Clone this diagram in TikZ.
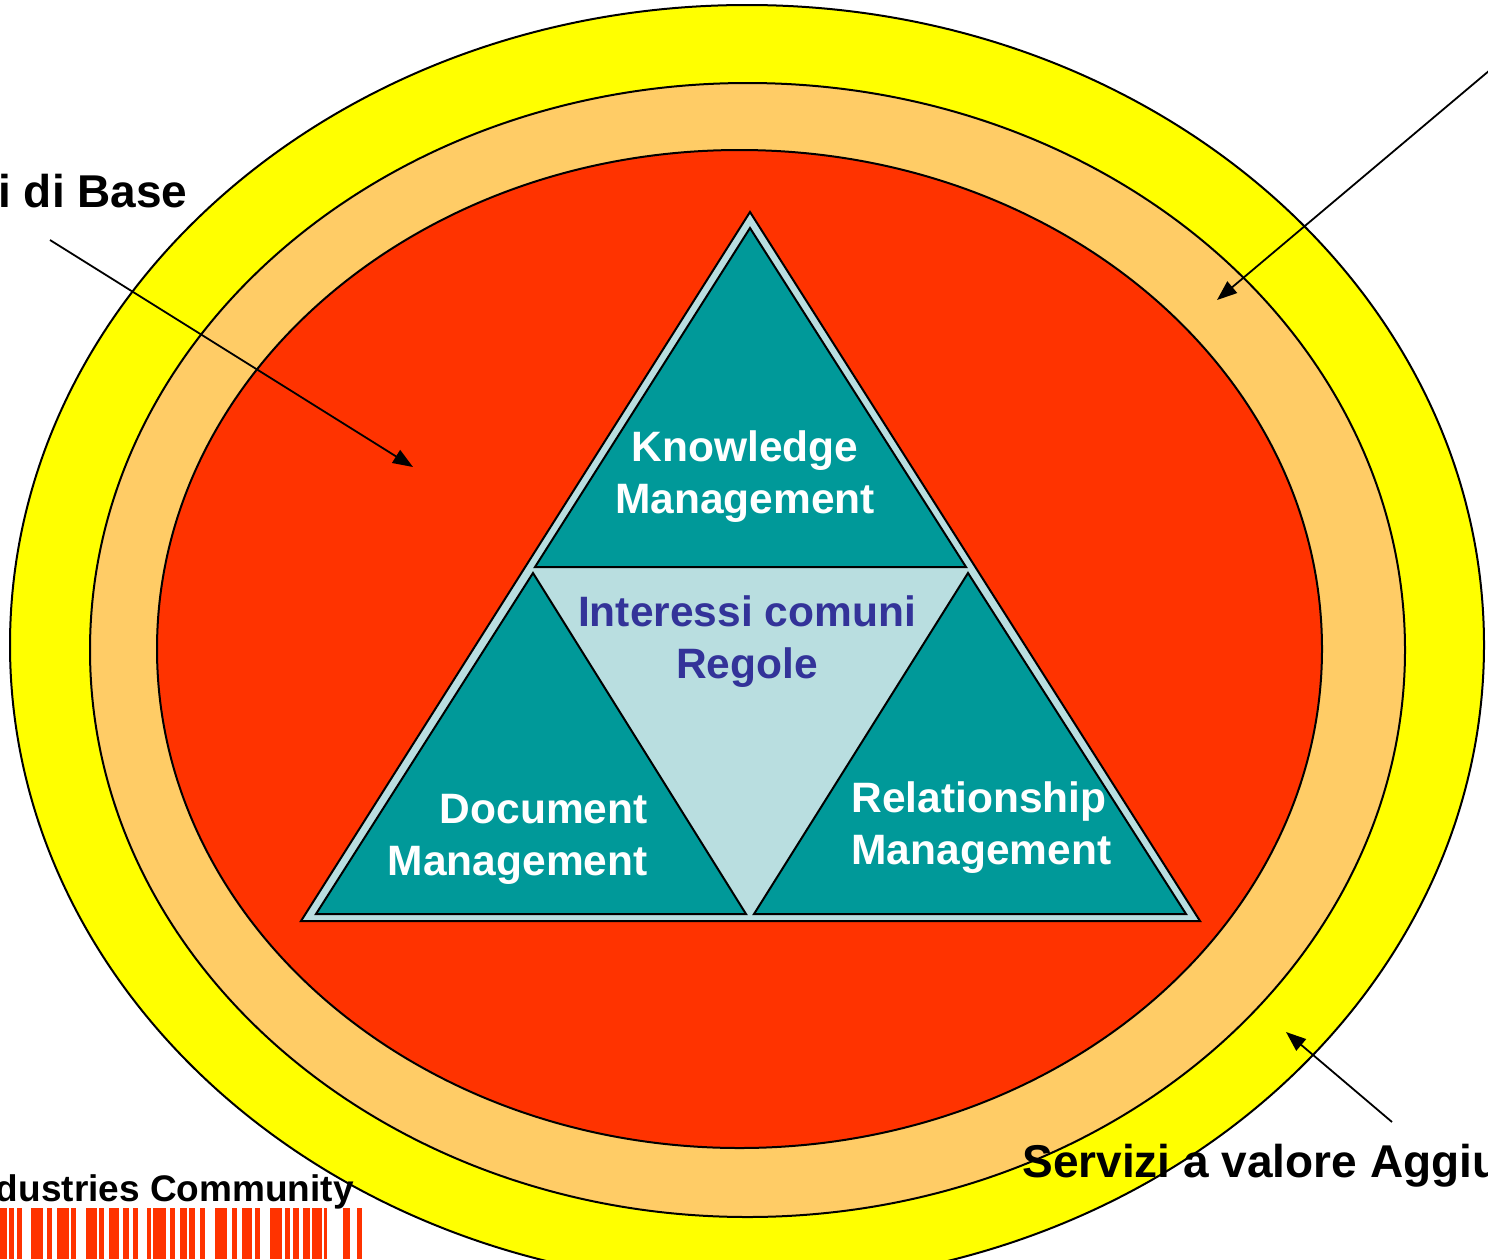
\documentclass[tikz,border=0pt]{standalone}
\usepackage{fontspec}
\setmainfont{Liberation Sans}
\usetikzlibrary{arrows.meta}
\definecolor{ringY}{HTML}{FFFF00}
\definecolor{ringO}{HTML}{FFCC66}
\definecolor{ringR}{HTML}{FF3300}
\definecolor{tealc}{HTML}{009999}
\definecolor{pale}{HTML}{B9DEE0}
\definecolor{txtblue}{HTML}{333399}
\begin{document}
\begin{tikzpicture}[x=0.5pt,y=-0.5pt,
  ring/.style={draw=black,line width=1pt},
  tri/.style={draw=black,line width=1pt,line join=miter},
  inner/.style={tri,fill=tealc},
  pointer/.style={draw=black,line width=0.9pt,-{Triangle[length=10pt,width=7.5pt]}},
  whitelbl/.style={text=white,font=\fontsize{21.25pt}{25.75pt}\selectfont\bfseries,inner sep=0pt},
  bluelbl/.style={text=txtblue,font=\fontsize{21.25pt}{25.75pt}\selectfont\bfseries,inner sep=0pt},
  biglbl/.style={text=black,font=\fontsize{23pt}{28pt}\selectfont\bfseries,inner sep=0pt},
  smalllbl/.style={text=black,font=\fontsize{18.5pt}{22pt}\selectfont\bfseries,inner sep=0pt},
  bar/.style={fill=ringR}]
\useasboundingbox (0,0) rectangle (1488,1259);
\clip (0,0) rectangle (1488,1259);
% rings
\filldraw[ring,fill=ringY] (747,645) ellipse [x radius=368.5pt, y radius=320pt];
\filldraw[ring,fill=ringO] (747.5,650) ellipse [x radius=328.75pt, y radius=283.5pt];
\filldraw[ring,fill=ringR] (739.5,649) ellipse [x radius=291.25pt, y radius=249.5pt];
% triangle
\filldraw[tri,fill=pale] (750,212) -- (1200,921) -- (301,921) -- cycle;
\filldraw[inner] (750,228) -- (966,567) -- (535,567) -- cycle;
\filldraw[inner] (533,573) -- (746,914) -- (316,914) -- cycle;
\filldraw[inner] (968,573) -- (1186,914) -- (754,914) -- cycle;
% texts in triangle (base anchor = baseline of the last line)
\node[whitelbl,align=center,anchor=base] (km) at (745,513) {Knowledge\\Management};
\node[bluelbl,align=center,anchor=base] (ic) at (747,678) {Interessi comuni\\Regole};
\node[whitelbl,align=right,anchor=base east] (dm) at (648,875) {Document\\Management};
\node[whitelbl,align=left,anchor=base west] (rm) at (851,864) {Relationship\\Management};
% outside labels
\node[biglbl,anchor=base east] (base) at (188,207) {Servizi di Base};
\node[biglbl,anchor=base west] (agg) at (1022,1177) {Servizi a valore Aggiunto};
\node[smalllbl,anchor=base east] (ind) at (354,1201) {Industries Community};
% arrows
\coordinate (a1s) at (50,240);
\coordinate (a1e) at (413,467);
\coordinate (a2s) at (1490,70);
\coordinate (a2e) at (1217,300);
\coordinate (a3s) at (1392,1122);
\coordinate (a3e) at (1286,1032);
\draw[pointer] (a1s) -- (a1e);
\draw[pointer] (a2s) -- (a2e);
\draw[pointer] (a3s) -- (a3e);
% barcode
\foreach \a/\b in {0/7, 9/14, 17/22, 31/43, 47/52, 57/69, 71/76, 86/97, 99/104, 109/119, 123/129, 133/138, 147/151, 153/166, 170/175, 180/187, 189/195, 200/205, 215/227, 232/237, 242/252, 255/260, 270/282, 285/290, 293/299, 303/310, 312/322, 324/327, 343/350, 357/362}
  \fill[bar] (\a,1208) rectangle (\b,1259);
\end{tikzpicture}
\end{document}
